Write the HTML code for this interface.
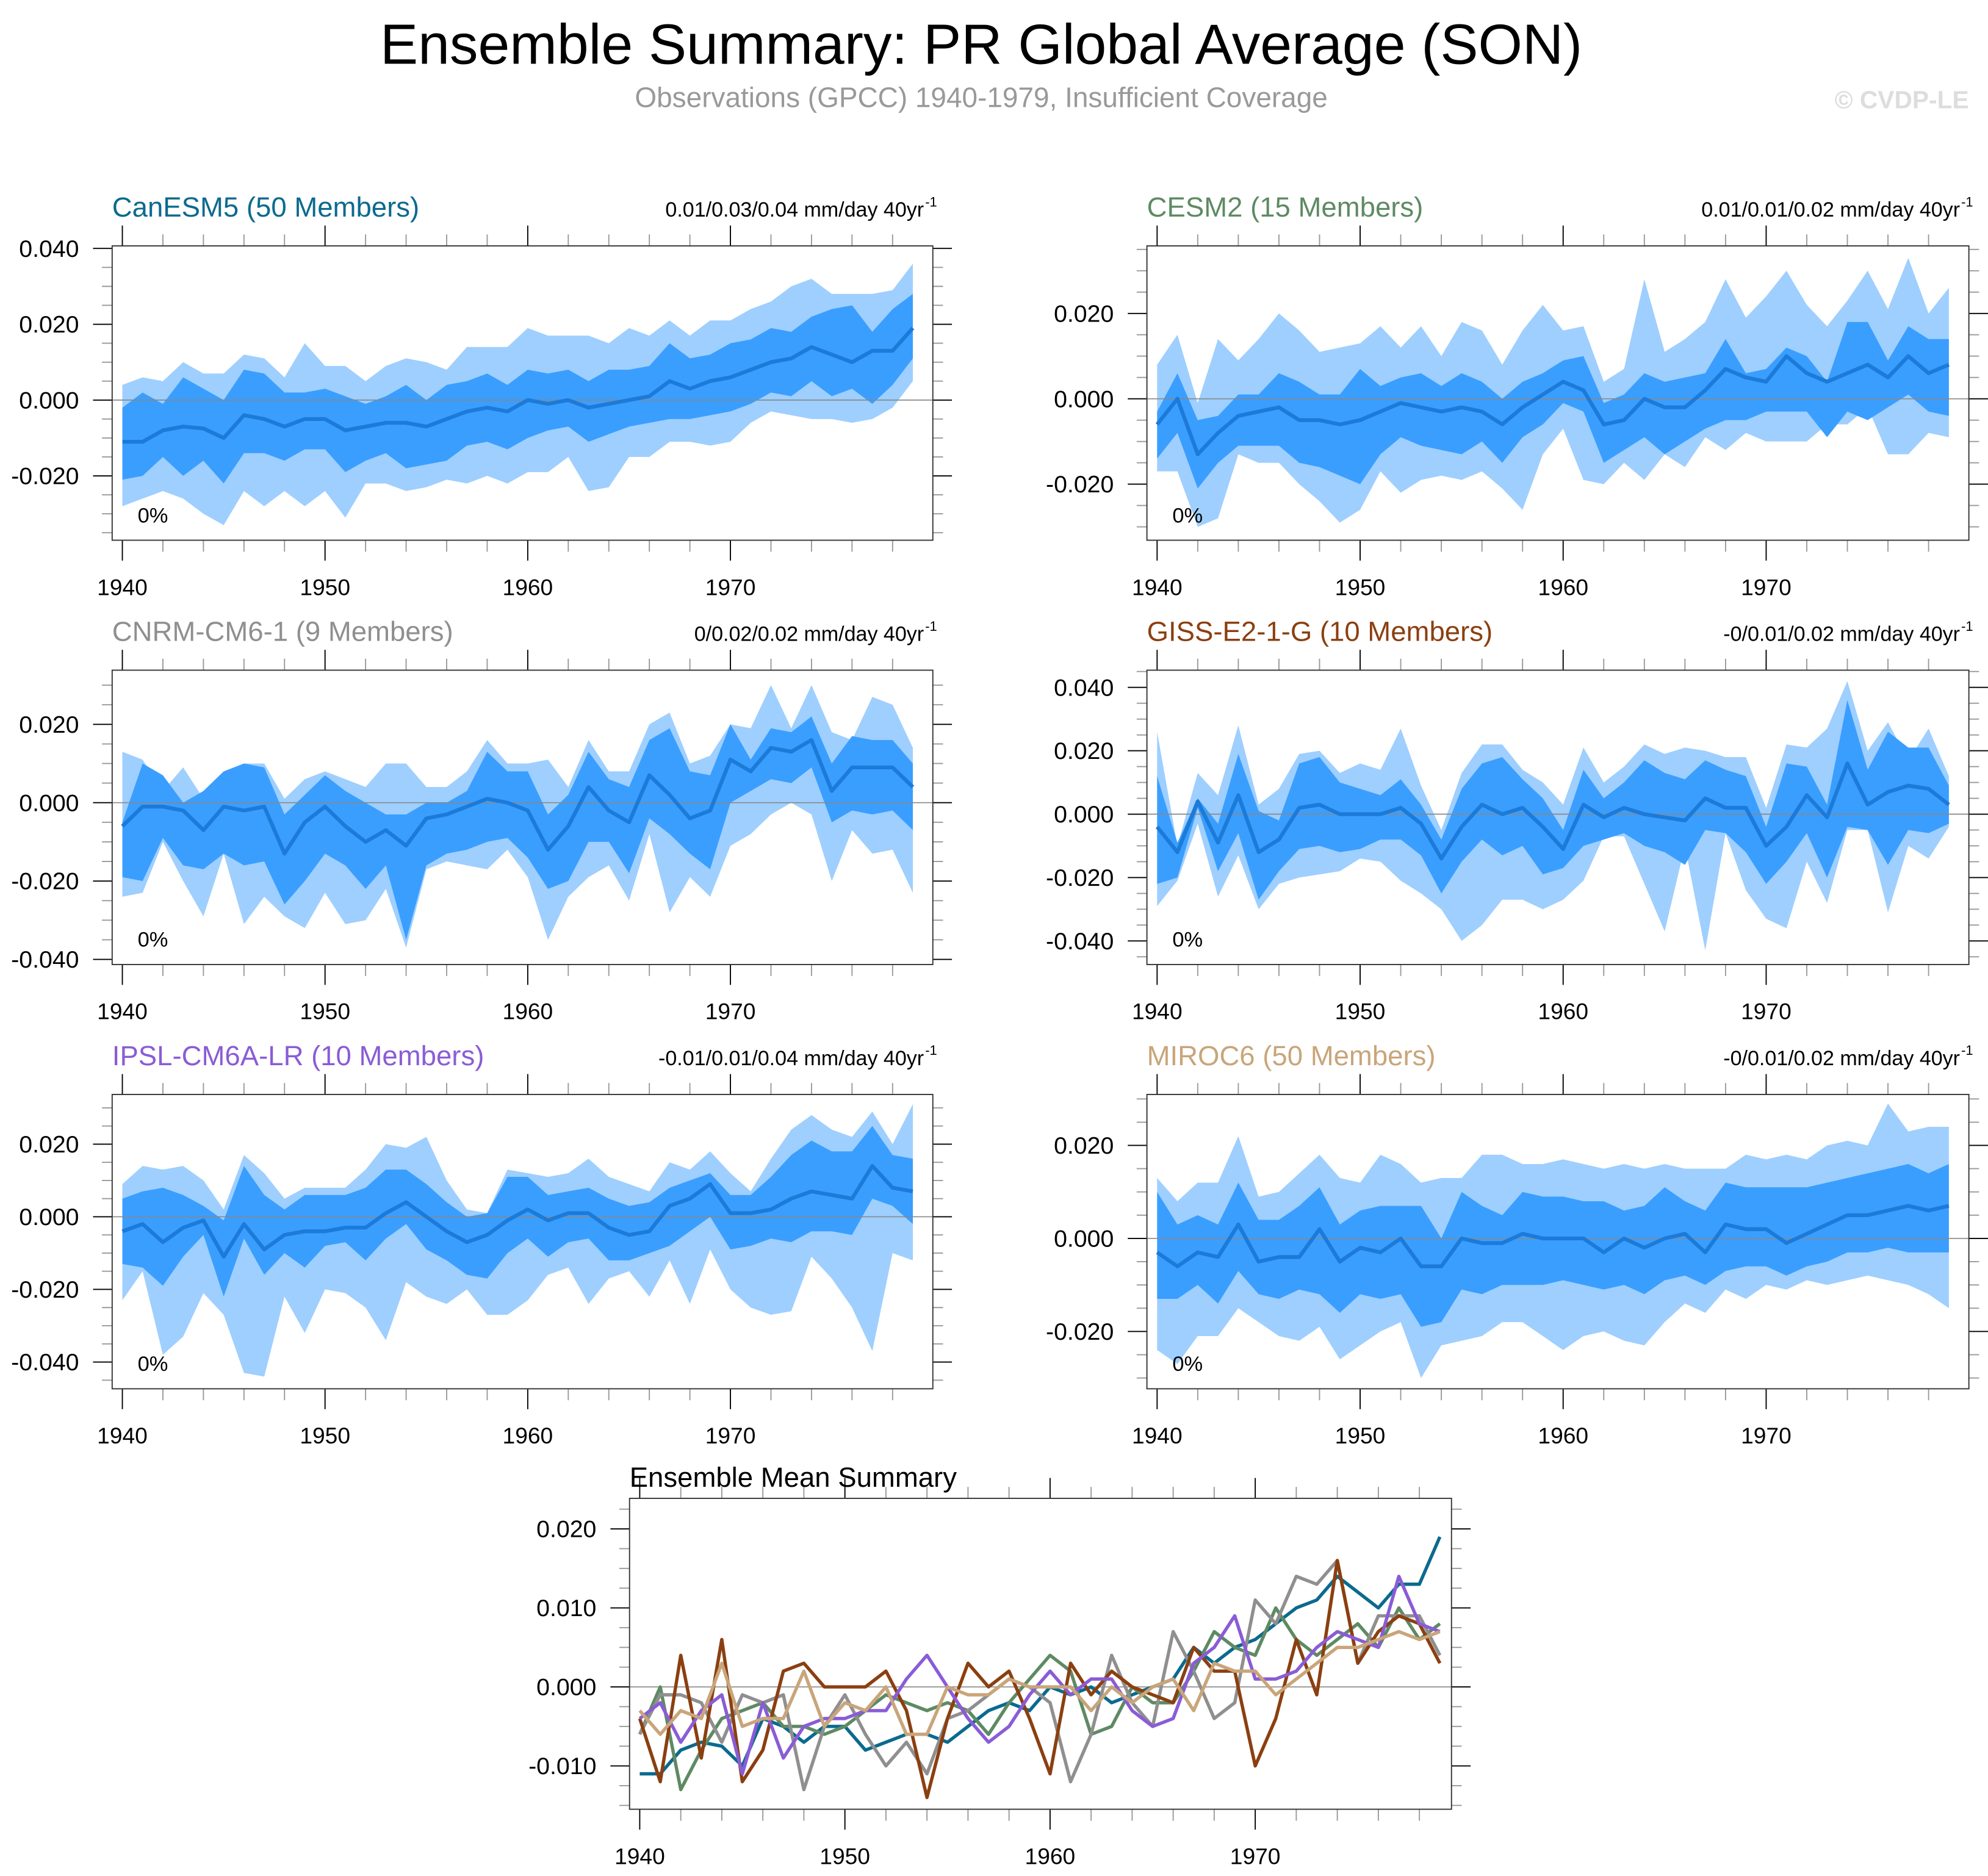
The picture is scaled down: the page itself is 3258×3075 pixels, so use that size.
<!DOCTYPE html>
<html><head><meta charset="utf-8"><style>
html,body{margin:0;padding:0;background:#fff}
svg{display:block}
text{font-family:"Liberation Sans",sans-serif}
</style></head><body>
<svg id="fig" width="3258" height="3075" viewBox="0 0 1560 1472.4" xmlns="http://www.w3.org/2000/svg">
<rect width="1560" height="1472.4" fill="#fff"/>
<text x="770" y="50" font-size="44.6" text-anchor="middle">Ensemble Summary: PR Global Average (SON)</text>
<text x="770" y="84" font-size="22" fill="#999" text-anchor="middle">Observations (GPCC) 1940-1979, Insufficient Coverage</text>
<text x="1545" y="85" font-size="19.5" font-weight="bold" fill="#ddd" text-anchor="end">© CVDP-LE</text>
<g id="panels"></g>
</svg>
<script>
const years=[];for(let y=1940;y<=1979;y++)years.push(y);
const modelNames=["CanESM5 (50 Members)","CESM2 (15 Members)","CNRM-CM6-1 (9 Members)","GISS-E2-1-G (10 Members)","IPSL-CM6A-LR (10 Members)","MIROC6 (50 Members)"];
const trendLabels=["0.01/0.03/0.04 mm/day 40yr","0.01/0.01/0.02 mm/day 40yr","0/0.02/0.02 mm/day 40yr","-0/0.01/0.02 mm/day 40yr","-0.01/0.01/0.04 mm/day 40yr","-0/0.01/0.02 mm/day 40yr"];
const pctLabels=["0%","0%","0%","0%","0%","0%"];
const modelColors=["#0b6a8e","#5e8a63","#8f8f8f","#8b3f10","#8a5cd6","#c9a57a"];
const yTicks=[[-0.02,0,0.02,0.04],[-0.02,0,0.02],[-0.04,-0.02,0,0.02],[-0.04,-0.02,0,0.02,0.04],[-0.04,-0.02,0,0.02],[-0.02,0,0.02]];
const meanTicks=[-0.01,0,0.01,0.02];
const xTicks=[1940,1950,1960,1970];

const mean0=[-0.011,-0.011,-0.008,-0.007,-0.0075,-0.010,-0.004,-0.005,-0.007,-0.005,-0.005,-0.008,-0.007,-0.006,-0.006,-0.007,-0.005,-0.003,-0.002,-0.003,0.000,-0.001,0.000,-0.002,-0.001,0.000,0.001,0.005,0.003,0.005,0.006,0.008,0.010,0.011,0.014,0.012,0.010,0.013,0.013,0.019];
const dhi0=[-0.002,0.002,-0.001,0.006,0.003,0.000,0.008,0.007,0.002,0.002,0.003,0.001,-0.001,0.001,0.004,0.000,0.004,0.005,0.007,0.004,0.008,0.007,0.008,0.005,0.008,0.008,0.009,0.015,0.011,0.012,0.015,0.016,0.019,0.018,0.022,0.024,0.025,0.018,0.024,0.028];
const dlo0=[-0.021,-0.020,-0.015,-0.020,-0.016,-0.022,-0.014,-0.014,-0.016,-0.013,-0.013,-0.019,-0.016,-0.014,-0.018,-0.017,-0.016,-0.012,-0.011,-0.013,-0.010,-0.008,-0.007,-0.011,-0.009,-0.007,-0.006,-0.005,-0.005,-0.004,-0.003,-0.001,0.002,0.001,0.005,0.001,0.003,-0.001,0.004,0.011];
const lhi0=[0.004,0.006,0.005,0.010,0.007,0.007,0.012,0.011,0.006,0.015,0.009,0.009,0.005,0.009,0.011,0.010,0.008,0.014,0.014,0.014,0.019,0.017,0.017,0.017,0.015,0.019,0.017,0.021,0.017,0.021,0.021,0.024,0.026,0.030,0.032,0.028,0.028,0.028,0.029,0.036];
const llo0=[-0.028,-0.026,-0.024,-0.026,-0.030,-0.033,-0.024,-0.028,-0.024,-0.028,-0.024,-0.031,-0.022,-0.022,-0.024,-0.023,-0.021,-0.022,-0.020,-0.022,-0.019,-0.019,-0.015,-0.024,-0.023,-0.015,-0.015,-0.011,-0.011,-0.012,-0.011,-0.006,-0.003,-0.004,-0.005,-0.005,-0.006,-0.005,-0.002,0.005];

const mean1=[-0.006,0.000,-0.013,-0.008,-0.004,-0.003,-0.002,-0.005,-0.005,-0.006,-0.005,-0.003,-0.001,-0.002,-0.003,-0.002,-0.003,-0.006,-0.002,0.001,0.004,0.002,-0.006,-0.005,0.000,-0.002,-0.002,0.002,0.007,0.005,0.004,0.010,0.006,0.004,0.006,0.008,0.005,0.010,0.006,0.008];
const dhi1=[-0.003,0.006,-0.005,-0.004,0.001,0.001,0.006,0.004,0.001,0.001,0.007,0.003,0.005,0.006,0.003,0.006,0.004,0.000,0.004,0.006,0.009,0.010,-0.001,0.001,0.006,0.004,0.005,0.006,0.014,0.006,0.007,0.012,0.010,0.004,0.018,0.018,0.009,0.017,0.014,0.014];
const dlo1=[-0.014,-0.008,-0.021,-0.015,-0.011,-0.011,-0.011,-0.015,-0.016,-0.018,-0.020,-0.013,-0.009,-0.011,-0.012,-0.013,-0.010,-0.015,-0.009,-0.006,-0.001,-0.003,-0.015,-0.012,-0.009,-0.013,-0.010,-0.007,-0.005,-0.005,-0.003,-0.003,-0.003,-0.009,-0.003,-0.005,-0.002,0.001,-0.003,-0.004];
const lhi1=[0.008,0.015,-0.001,0.014,0.009,0.014,0.020,0.016,0.011,0.012,0.013,0.017,0.012,0.017,0.010,0.018,0.016,0.008,0.016,0.022,0.016,0.017,0.004,0.007,0.028,0.011,0.014,0.018,0.028,0.019,0.024,0.030,0.022,0.017,0.023,0.030,0.021,0.033,0.020,0.026];
const llo1=[-0.017,-0.017,-0.030,-0.028,-0.013,-0.015,-0.015,-0.020,-0.024,-0.029,-0.026,-0.017,-0.022,-0.019,-0.018,-0.019,-0.017,-0.021,-0.026,-0.013,-0.007,-0.019,-0.020,-0.015,-0.019,-0.013,-0.016,-0.009,-0.012,-0.008,-0.010,-0.010,-0.010,-0.006,-0.006,-0.002,-0.013,-0.013,-0.008,-0.009];

const mean2=[-0.006,-0.001,-0.001,-0.002,-0.007,-0.001,-0.002,-0.001,-0.013,-0.005,-0.001,-0.006,-0.010,-0.007,-0.011,-0.004,-0.003,-0.001,0.001,0.000,-0.002,-0.012,-0.006,0.004,-0.002,-0.005,0.007,0.002,-0.004,-0.002,0.011,0.008,0.014,0.013,0.016,0.003,0.009,0.009,0.009,0.004];
const dhi2=[-0.005,0.010,0.007,0.000,0.003,0.008,0.010,0.009,-0.003,0.002,0.007,0.003,0.000,-0.003,-0.003,0.000,0.000,0.003,0.013,0.008,0.008,-0.003,0.002,0.013,0.006,0.004,0.016,0.019,0.008,0.007,0.020,0.011,0.019,0.018,0.022,0.010,0.017,0.016,0.016,0.010];
const dlo2=[-0.019,-0.020,-0.009,-0.016,-0.017,-0.013,-0.016,-0.015,-0.026,-0.020,-0.013,-0.016,-0.022,-0.016,-0.035,-0.016,-0.013,-0.012,-0.010,-0.009,-0.014,-0.022,-0.020,-0.010,-0.010,-0.018,-0.004,-0.008,-0.013,-0.017,0.000,0.003,0.006,0.005,0.009,-0.005,-0.002,-0.003,-0.002,-0.007];
const lhi2=[0.013,0.011,0.003,0.009,0.001,0.007,0.010,0.010,0.001,0.006,0.008,0.006,0.004,0.010,0.010,0.004,0.004,0.008,0.016,0.010,0.010,0.011,0.004,0.016,0.008,0.008,0.020,0.023,0.010,0.012,0.020,0.019,0.030,0.019,0.030,0.018,0.016,0.027,0.025,0.014];
const llo2=[-0.024,-0.023,-0.010,-0.020,-0.029,-0.013,-0.031,-0.024,-0.029,-0.032,-0.023,-0.031,-0.030,-0.022,-0.037,-0.017,-0.015,-0.016,-0.017,-0.012,-0.019,-0.035,-0.024,-0.019,-0.016,-0.025,-0.008,-0.028,-0.019,-0.024,-0.011,-0.008,-0.003,0.000,-0.003,-0.020,-0.007,-0.013,-0.012,-0.023];

const mean3=[-0.004,-0.012,0.004,-0.009,0.006,-0.012,-0.008,0.002,0.003,0.000,0.000,0.000,0.002,-0.003,-0.014,-0.004,0.003,0.000,0.002,-0.004,-0.011,0.003,-0.001,0.002,0.000,-0.001,-0.002,0.005,0.002,0.002,-0.010,-0.004,0.006,-0.001,0.016,0.003,0.007,0.009,0.008,0.003];
const dhi3=[0.012,-0.009,0.005,-0.003,0.019,0.001,-0.002,0.016,0.018,0.010,0.008,0.006,0.011,0.003,-0.008,0.008,0.016,0.018,0.011,0.005,-0.005,0.014,0.005,0.010,0.017,0.013,0.011,0.017,0.014,0.012,-0.004,0.016,0.015,0.003,0.036,0.014,0.026,0.021,0.021,0.009];
const dlo3=[-0.022,-0.020,0.002,-0.018,-0.006,-0.027,-0.018,-0.011,-0.010,-0.012,-0.011,-0.008,-0.008,-0.013,-0.025,-0.015,-0.008,-0.013,-0.010,-0.019,-0.017,-0.010,-0.008,-0.006,-0.010,-0.012,-0.016,-0.005,-0.006,-0.012,-0.022,-0.015,-0.006,-0.020,-0.004,-0.005,-0.016,-0.005,-0.006,-0.003];
const lhi3=[0.026,-0.010,0.013,0.006,0.028,0.003,0.008,0.019,0.020,0.013,0.016,0.014,0.027,0.009,-0.005,0.013,0.022,0.022,0.014,0.010,0.003,0.021,0.010,0.015,0.022,0.019,0.021,0.020,0.018,0.018,0.002,0.022,0.021,0.027,0.042,0.020,0.029,0.017,0.027,0.012];
const llo3=[-0.029,-0.021,-0.003,-0.026,-0.013,-0.030,-0.022,-0.020,-0.019,-0.018,-0.014,-0.015,-0.021,-0.025,-0.030,-0.040,-0.035,-0.027,-0.027,-0.030,-0.027,-0.021,-0.007,-0.007,-0.022,-0.037,-0.010,-0.043,-0.006,-0.024,-0.033,-0.036,-0.015,-0.028,-0.005,-0.005,-0.031,-0.010,-0.014,-0.004];

const mean4=[-0.004,-0.002,-0.007,-0.003,-0.001,-0.011,-0.002,-0.009,-0.005,-0.004,-0.004,-0.003,-0.003,0.001,0.004,0.000,-0.004,-0.007,-0.005,-0.001,0.002,-0.001,0.001,0.001,-0.003,-0.005,-0.004,0.003,0.005,0.009,0.001,0.001,0.002,0.005,0.007,0.006,0.005,0.014,0.008,0.007];
const dhi4=[0.005,0.007,0.008,0.006,0.003,-0.001,0.014,0.006,0.002,0.006,0.006,0.006,0.008,0.013,0.013,0.009,0.004,0.000,0.001,0.011,0.011,0.006,0.007,0.008,0.005,0.003,0.004,0.008,0.010,0.012,0.006,0.006,0.011,0.017,0.021,0.018,0.018,0.025,0.017,0.016];
const dlo4=[-0.013,-0.014,-0.019,-0.011,-0.005,-0.022,-0.006,-0.016,-0.010,-0.014,-0.008,-0.007,-0.012,-0.006,-0.002,-0.009,-0.012,-0.016,-0.017,-0.010,-0.006,-0.011,-0.007,-0.006,-0.012,-0.012,-0.010,-0.008,-0.004,0.000,-0.009,-0.008,-0.006,-0.007,-0.004,-0.004,-0.005,0.005,0.003,-0.002];
const lhi4=[0.009,0.014,0.013,0.014,0.010,0.002,0.017,0.012,0.005,0.008,0.008,0.008,0.013,0.020,0.019,0.022,0.010,0.002,0.001,0.013,0.012,0.011,0.012,0.016,0.011,0.009,0.007,0.015,0.013,0.018,0.012,0.007,0.016,0.024,0.028,0.024,0.022,0.029,0.020,0.031];
const llo4=[-0.023,-0.015,-0.038,-0.033,-0.021,-0.027,-0.043,-0.044,-0.022,-0.032,-0.020,-0.021,-0.025,-0.034,-0.018,-0.022,-0.024,-0.020,-0.027,-0.027,-0.023,-0.016,-0.014,-0.024,-0.017,-0.015,-0.022,-0.012,-0.024,-0.009,-0.020,-0.025,-0.027,-0.026,-0.011,-0.017,-0.025,-0.037,-0.010,-0.012];

const mean5=[-0.003,-0.006,-0.003,-0.004,0.003,-0.005,-0.004,-0.004,0.002,-0.005,-0.002,-0.003,0.000,-0.006,-0.006,0.000,-0.001,-0.001,0.001,0.000,0.000,0.000,-0.003,0.000,-0.002,0.000,0.001,-0.003,0.003,0.002,0.002,-0.001,0.001,0.003,0.005,0.005,0.006,0.007,0.006,0.007];
const dhi5=[0.010,0.003,0.005,0.003,0.012,0.004,0.004,0.007,0.011,0.003,0.006,0.007,0.007,0.007,0.000,0.010,0.007,0.005,0.010,0.009,0.009,0.008,0.008,0.006,0.007,0.011,0.008,0.006,0.012,0.011,0.011,0.011,0.011,0.012,0.013,0.014,0.015,0.016,0.014,0.016];
const dlo5=[-0.013,-0.013,-0.010,-0.014,-0.007,-0.012,-0.013,-0.011,-0.012,-0.016,-0.012,-0.013,-0.012,-0.019,-0.018,-0.011,-0.012,-0.010,-0.010,-0.010,-0.009,-0.010,-0.011,-0.010,-0.012,-0.009,-0.008,-0.010,-0.007,-0.006,-0.006,-0.008,-0.006,-0.005,-0.003,-0.003,-0.002,-0.003,-0.003,-0.003];
const lhi5=[0.013,0.008,0.012,0.012,0.022,0.009,0.010,0.014,0.018,0.013,0.012,0.018,0.016,0.012,0.013,0.013,0.018,0.018,0.016,0.016,0.017,0.016,0.015,0.016,0.015,0.016,0.015,0.015,0.015,0.018,0.017,0.018,0.017,0.020,0.021,0.020,0.029,0.023,0.024,0.024];
const llo5=[-0.024,-0.027,-0.021,-0.021,-0.015,-0.018,-0.021,-0.022,-0.019,-0.026,-0.023,-0.020,-0.018,-0.030,-0.023,-0.022,-0.021,-0.018,-0.018,-0.021,-0.024,-0.021,-0.020,-0.022,-0.023,-0.018,-0.014,-0.016,-0.011,-0.013,-0.010,-0.011,-0.009,-0.010,-0.009,-0.008,-0.009,-0.010,-0.012,-0.015];

const means=[mean0,mean1,mean2,mean3,mean4,mean5];
const darkHi=[dhi0,dhi1,dhi2,dhi3,dhi4,dhi5];
const darkLo=[dlo0,dlo1,dlo2,dlo3,dlo4,dlo5];
const lightHi=[lhi0,lhi1,lhi2,lhi3,lhi4,lhi5];
const lightLo=[llo0,llo1,llo2,llo3,llo4,llo5];

const NS="http://www.w3.org/2000/svg";
const root=document.getElementById('panels');
function el(tag,attrs,parent){const e=document.createElementNS(NS,tag);for(const k in attrs)e.setAttribute(k,attrs[k]);(parent||root).appendChild(e);return e;}

const boxes=[
 {x0:88,x1:732,y0:193,y1:424,zero:314,ppu:2975},
 {x0:900,x1:1545,y0:193,y1:424,zero:313,ppu:3350},
 {x0:88,x1:732,y0:526,y1:757,zero:630,ppu:3075},
 {x0:900,x1:1545,y0:526,y1:757,zero:639,ppu:2487.5},
 {x0:88,x1:732,y0:859,y1:1090,zero:955,ppu:2850},
 {x0:900,x1:1545,y0:859,y1:1090,zero:972,ppu:3650}];
const minorStep=[0.005,0.005,0.005,0.005,0.005,0.005];

function drawAxes(g,b,xs,ys,majY,minY,lw){
 const ymax=(b.zero-b.y0)/b.ppu, ymin=-(b.y1-b.zero)/b.ppu;
 el('line',{x1:b.x0,x2:b.x1,y1:ys(0),y2:ys(0),stroke:'#888','stroke-width':0.8},g);
 for(let v=Math.ceil(ymin/minY-1e-6)*minY; v<=ymax+1e-9; v+=minY){
  const isMaj=majY.some(m=>Math.abs(m-v)<1e-7);const L=isMaj?15:8;const y=ys(v);
  const t1=el('line',{x1:b.x0-L,x2:b.x0,y1:y,y2:y,stroke:isMaj?'#000':'#999','stroke-width':0.9},g);
  
  el('line',{x1:b.x1,x2:b.x1+L,y1:y,y2:y,stroke:isMaj?'#000':'#999','stroke-width':0.9},g);
 }
 majY.forEach(v=>{const t=el('text',{x:b.x0-26,y:ys(v)+6.5,'font-size':18.8,'text-anchor':'end'},g);t.textContent=v.toFixed(3);
  });
 for(let yr=1940;yr<=1978;yr+=2){const isMaj=yr%10===0;const L=isMaj?16:9;const x=xs(yr);
  el('line',{x1:x,x2:x,y1:b.y1,y2:b.y1+L,stroke:isMaj?'#000':'#999','stroke-width':0.9},g);
  el('line',{x1:x,x2:x,y1:b.y0-L,y2:b.y0,stroke:isMaj?'#000':'#999','stroke-width':0.9},g);}
 xTicks.forEach(yr=>{const t=el('text',{x:xs(yr),y:b.y1+43,'font-size':17.8,'text-anchor':'middle'},g);t.textContent=yr;
  });
 const r=el('rect',{x:b.x0,y:b.y0,width:b.x1-b.x0,height:b.y1-b.y0,fill:'none',stroke:'#333','stroke-width':lw},g);
 
}

function poly(xs,ys,hi,lo){let pts=[];years.forEach((yr,i)=>pts.push(xs(yr)+','+ys(hi[i])));
 for(let i=years.length-1;i>=0;i--)pts.push(xs(years[i])+','+ys(lo[i]));return pts.join(' ');}
function line(xs,ys,v){return years.map((yr,i)=>xs(yr)+','+ys(v[i])).join(' ');}

boxes.forEach((b,p)=>{
 const g=el('g',{});
 
 
 const xs=yr=>b.x0+8+(yr-1940)*(b.x1-b.x0-8-12.5)/39.2;
 const ys=v=>b.zero-v*b.ppu;
 const cp='clip'+p;
 const cl=el('clipPath',{id:cp},g);el('rect',{x:b.x0,y:b.y0,width:b.x1-b.x0,height:b.y1-b.y0},cl);
 const lb=el('polygon',{points:poly(xs,ys,lightHi[p],lightLo[p]),fill:'#9ecfff','clip-path':'url(#'+cp+')'},g);
 
 const db=el('polygon',{points:poly(xs,ys,darkHi[p],darkLo[p]),fill:'#3a9eff','clip-path':'url(#'+cp+')'},g);
 
 drawAxes(g,b,xs,ys,yTicks[p],minorStep[p],0.9);
 const ml=el('polyline',{points:line(xs,ys,means[p]),fill:'none',stroke:'#1c7ad8','stroke-width':3,'stroke-linejoin':'round'},g);
 
 const tt=el('text',{x:b.x0,y:b.y0-23,'font-size':21.8,fill:modelColors[p]},g);tt.textContent=modelNames[p];
 
 const tr=el('text',{x:b.x1-7,y:b.y0-23,'font-size':16.3,'text-anchor':'end'},g);tr.textContent=trendLabels[p];
 
 const sup=el('text',{x:b.x1-6,y:b.y0-31,'font-size':10.5,'text-anchor':'start'},g);sup.textContent='-1';
 const pc=el('text',{x:b.x0+20,y:b.y1-14,'font-size':16.5},g);pc.textContent=pctLabels[p];
 
});

(function(){
 const b={x0:494,x1:1139,y0:1176,y1:1420,zero:1324,ppu:6200};
 const g=el('g',{});
 
 
 const xs=yr=>b.x0+8+(yr-1940)*16.1;
 const ys=v=>b.zero-v*b.ppu;
 drawAxes(g,b,xs,ys,meanTicks,0.0025,0.9);
 means.forEach((m,p)=>{
  const l=el('polyline',{points:line(xs,ys,m),fill:'none',stroke:modelColors[p],'stroke-width':2.6,'stroke-linejoin':'round'},g);
  
  
 });
 const t=el('text',{x:b.x0,y:b.y0-9,'font-size':21.8},g);t.textContent='Ensemble Mean Summary';
 
})();
</script>
</body></html>
